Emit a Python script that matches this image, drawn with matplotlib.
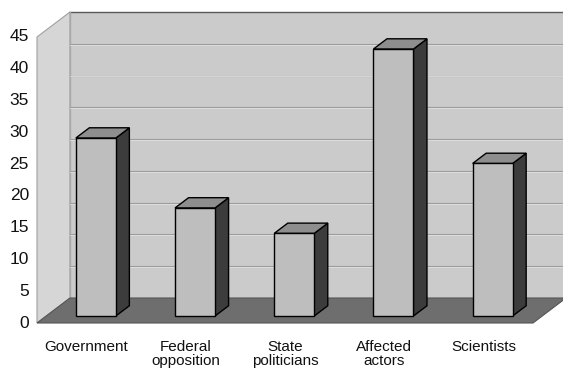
import matplotlib
matplotlib.use("Agg")
import matplotlib.pyplot as plt
from matplotlib.patches import Polygon

# Data
categories = ["Government", "Federal\nopposition", "State\npoliticians",
              "Affected\nactors", "Scientists"]
values = [28, 17, 13, 42, 24]
y_ticks = [0, 5, 10, 15, 20, 25, 30, 35, 40, 45]

# Pixel geometry of the 3-D frame, converted to data units below
W, H = 563, 370
PX_CAT = 99.2          # pixels per category
PX_VAL = 6.356         # pixels per value unit
X0_PX, Y0_PX = 37, 323  # front-left floor corner (pixels)

DX = 33 / PX_CAT        # full depth offset (categories)
DY = 25 / PX_VAL        # full depth offset (value units)
YMAX = 45
NCAT = len(categories)

F0, F1 = 0.28, 0.69     # bar front / back depth fractions
HALF_W = 20 / PX_CAT    # bar half width

c_side = "#d6d6d6"
c_back = "#cbcbcb"
c_floor = "#6e6e6e"
c_grid = "#9c9c9c"
c_front = "#bebebe"
c_top = "#8e8e8e"
c_right = "#3c3c3c"

fig = plt.figure(figsize=(W / 100, H / 100), dpi=100)
ax = fig.add_axes([0, 0, 1, 1])
ax.set_xlim(-X0_PX / PX_CAT, (W - X0_PX) / PX_CAT)
ax.set_ylim(-(H - Y0_PX) / PX_VAL, Y0_PX / PX_VAL)
ax.axis("off")

# Side wall
ax.add_patch(Polygon([(0, 0), (0, YMAX), (DX, YMAX + DY), (DX, DY)],
                     closed=True, facecolor=c_side, edgecolor="#a0a0a0",
                     linewidth=0.8, zorder=1))
# Back wall
ax.add_patch(Polygon([(DX, DY), (DX, YMAX + DY), (NCAT + DX, YMAX + DY),
                      (NCAT + DX, DY)],
                     closed=True, facecolor=c_back, edgecolor="none", zorder=1))
ax.plot([DX, NCAT + DX], [YMAX + DY, YMAX + DY], color="#5a5a5a", lw=1.0, zorder=2)
ax.plot([DX, DX], [DY, YMAX + DY], color="#a8a8a8", lw=1.0, zorder=2)

# Grid lines on the back wall
for t in y_ticks[1:-1]:
    ax.plot([DX, NCAT + DX], [t + DY, t + DY], color=c_grid, lw=0.8, zorder=2)
    ax.plot([DX, NCAT + DX], [t + DY - 0.15, t + DY - 0.15],
            color="#e0e0e0", lw=0.6, zorder=2)

# Floor
ax.add_patch(Polygon([(0, 0), (NCAT, 0), (NCAT + DX, DY), (DX, DY)],
                     closed=True, facecolor=c_floor, edgecolor="#555555",
                     linewidth=0.8, zorder=3))

# Bars
for i, v in enumerate(values):
    c = i + 0.5
    xl = c - HALF_W + F0 * DX
    xr = c + HALF_W + F0 * DX
    y0 = F0 * DY
    bdx = (F1 - F0) * DX
    bdy = (F1 - F0) * DY
    top = y0 + v
    ax.add_patch(Polygon([(xr, y0), (xr, top), (xr + bdx, top + bdy),
                          (xr + bdx, y0 + bdy)], closed=True,
                         facecolor=c_right, edgecolor="black", lw=1.0, zorder=4))
    ax.add_patch(Polygon([(xl, top), (xr, top), (xr + bdx, top + bdy),
                          (xl + bdx, top + bdy)], closed=True,
                         facecolor=c_top, edgecolor="black", lw=1.0, zorder=4))
    ax.add_patch(Polygon([(xl, y0), (xr, y0), (xr, top), (xl, top)],
                         closed=True, facecolor=c_front, edgecolor="black",
                         lw=1.0, zorder=5))

# Value axis labels
for t in y_ticks:
    ax.text(-8 / PX_CAT, t, str(t), ha="right", va="center",
            fontsize=12.5, family="Liberation Sans", color="#111111")

# Category labels
for i, lab in enumerate(categories):
    ax.text(i + 0.5, -17 / PX_VAL, lab, ha="center", va="top",
            fontsize=11, family="Liberation Sans", color="#111111",
            linespacing=1.0)

fig.savefig("out.png", dpi=100)
